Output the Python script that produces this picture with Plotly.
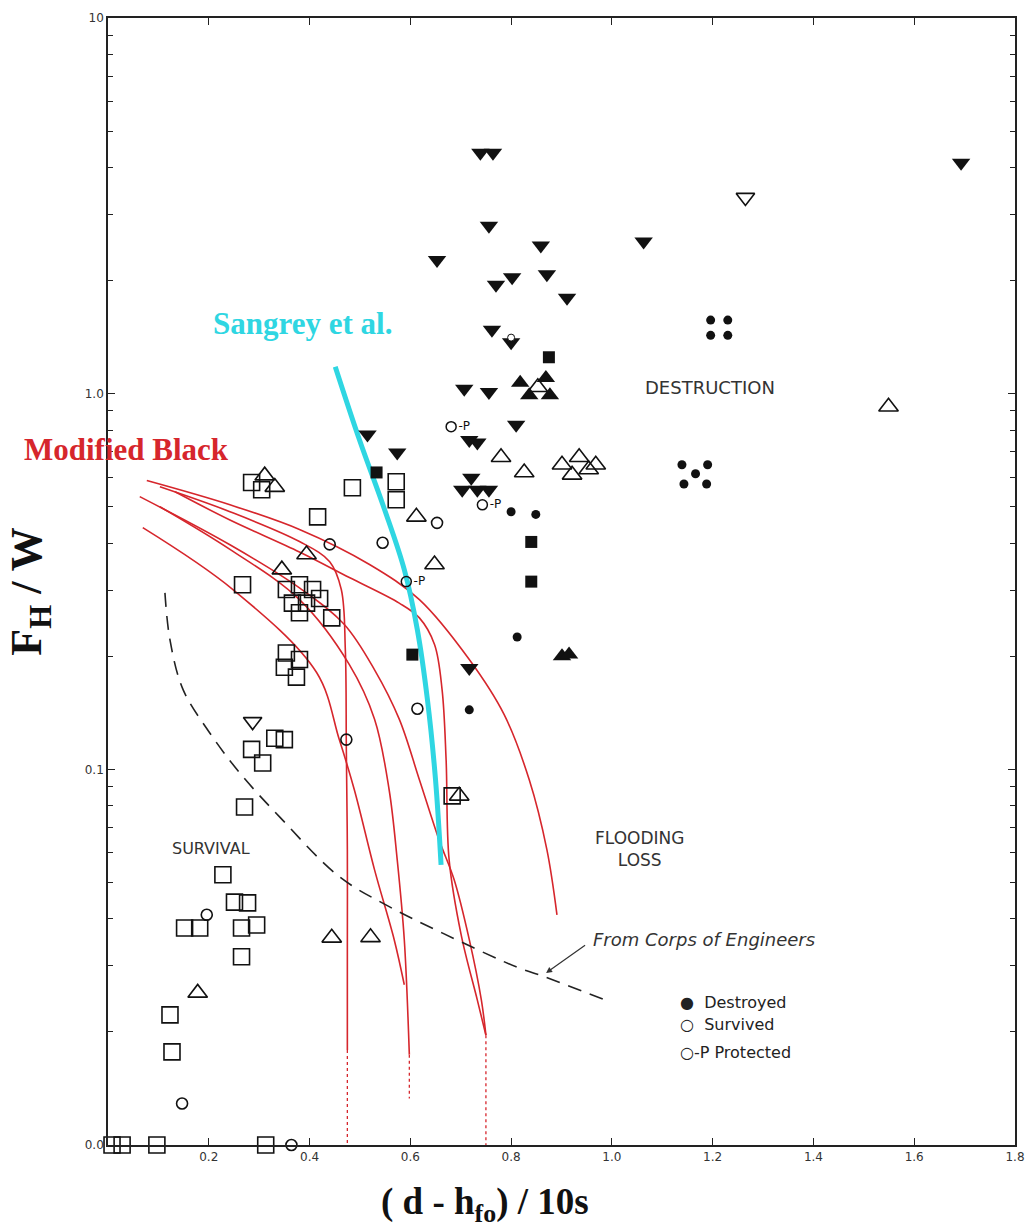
import plotly.graph_objects as go

# ---------------- data ----------------
# Destroyed: filled down-triangles
tri_dn_fill_x = [0.739, 0.764, 0.756, 0.653, 0.859, 1.063, 1.693, 0.770, 0.802, 0.871, 0.911,
                 0.762, 0.800, 0.810, 0.707, 0.756, 0.717, 0.733, 0.703, 0.733, 0.756, 0.721,
                 0.717, 0.515, 0.574]
tri_dn_fill_y = [4.38, 4.38, 2.80, 2.27, 2.48, 2.54, 4.12, 1.95, 2.04, 2.08, 1.80,
                 1.48, 1.37, 0.826, 1.03, 1.01, 0.753, 0.741, 0.555, 0.555, 0.555, 0.597,
                 0.186, 0.778, 0.697]
# white hole inside one triangle
hole_x = [0.800]
hole_y = [1.41]
# Destroyed: filled up-triangles
tri_up_fill_x = [0.818, 0.869, 0.836, 0.877, 0.901, 0.915]
tri_up_fill_y = [1.07, 1.10, 0.99, 0.99, 0.200, 0.202]
# Destroyed: filled squares
sq_fill_x = [0.875, 0.533, 0.840, 0.840, 0.604]
sq_fill_y = [1.25, 0.617, 0.403, 0.316, 0.202]
# Destroyed: filled circles
dot_fill_x = [0.800, 0.849, 0.812, 0.717, 1.139, 1.190, 1.166, 1.143, 1.188,
              1.196, 1.230, 1.196, 1.230]
dot_fill_y = [0.485, 0.477, 0.225, 0.144, 0.647, 0.647, 0.612, 0.575, 0.575,
              1.57, 1.57, 1.43, 1.43]
# Survived: open down-triangles
tri_dn_open_x = [1.265, 0.287]
tri_dn_open_y = [3.33, 0.134]
# Survived: open up-triangles
tri_up_open_x = [1.549, 0.311, 0.331, 0.612, 0.648, 0.394, 0.345, 0.780, 0.826, 0.901,
                 0.935, 0.968, 0.921, 0.954, 0.697, 0.444, 0.521, 0.178, 0.853]
tri_up_open_y = [0.923, 0.605, 0.564, 0.470, 0.351, 0.373, 0.340, 0.677, 0.617, 0.647,
                 0.677, 0.647, 0.608, 0.628, 0.085, 0.0356, 0.0357, 0.0254, 1.04]
# Survived: open squares
sq_open_x = [0.285, 0.305, 0.485, 0.416, 0.572, 0.572, 0.267, 0.354, 0.380, 0.406,
             0.366, 0.394, 0.420, 0.380, 0.444, 0.354, 0.350, 0.380, 0.374, 0.285,
             0.307, 0.331, 0.350, 0.271, 0.228, 0.251, 0.277, 0.152, 0.182, 0.265,
             0.295, 0.265, 0.123, 0.127, 0.683, 0.008, 0.028, 0.097, 0.313]
sq_open_y = [0.580, 0.555, 0.562, 0.470, 0.583, 0.522, 0.310, 0.301, 0.310, 0.301,
             0.277, 0.277, 0.285, 0.261, 0.253, 0.204, 0.187, 0.196, 0.176, 0.113,
             0.104, 0.121, 0.120, 0.0794, 0.0524, 0.0443, 0.0441, 0.0378, 0.0378, 0.0378,
             0.0385, 0.0317, 0.0222, 0.0177, 0.085, 0.01, 0.01, 0.01, 0.01]
# Survived: open circles
circ_open_x = [0.545, 0.440, 0.653, 0.614, 0.473, 0.196, 0.147, 0.364]
circ_open_y = [0.401, 0.397, 0.453, 0.145, 0.120, 0.0410, 0.0129, 0.01]
# Protected
prot_x = [0.681, 0.592, 0.743]
prot_y = [0.817, 0.316, 0.506]

# Sangrey et al. curve
sangrey_x = [0.451, 0.499, 0.549, 0.588, 0.614, 0.634, 0.650, 0.661]
sangrey_y = [1.18, 0.754, 0.491, 0.340, 0.235, 0.153, 0.0938, 0.0557]

# Modified Black curves
r1_x = [0.077, 0.242, 0.380, 0.519, 0.618, 0.717, 0.786, 0.836, 0.871, 0.891]
r1_y = [0.587, 0.506, 0.435, 0.351, 0.283, 0.196, 0.140, 0.0938, 0.0611, 0.0410]
r2_x = [0.103, 0.242, 0.380, 0.440, 0.463, 0.471, 0.473, 0.475, 0.475, 0.475]
r2_y = [0.565, 0.485, 0.404, 0.357, 0.301, 0.208, 0.113, 0.0611, 0.0330, 0.0179]
r3_x = [0.133, 0.242, 0.380, 0.479, 0.578, 0.618, 0.648, 0.663, 0.671, 0.677, 0.701, 0.733, 0.750]
r3_y = [0.548, 0.461, 0.379, 0.324, 0.277, 0.253, 0.215, 0.163, 0.106, 0.0574, 0.0362, 0.0243, 0.0196]
r4_x = [0.063, 0.242, 0.380, 0.469, 0.529, 0.578, 0.618, 0.657, 0.687, 0.717, 0.741, 0.750]
r4_y = [0.532, 0.396, 0.304, 0.243, 0.184, 0.136, 0.0938, 0.0649, 0.0508, 0.0352, 0.0243, 0.0196]
r5_x = [0.103, 0.242, 0.380, 0.479, 0.529, 0.558, 0.574, 0.588, 0.598]
r5_y = [0.500, 0.385, 0.283, 0.190, 0.136, 0.0881, 0.0574, 0.0352, 0.0174]
r6_x = [0.069, 0.248, 0.414, 0.459, 0.489, 0.529, 0.568, 0.588]
r6_y = [0.440, 0.301, 0.181, 0.120, 0.0881, 0.0540, 0.0352, 0.0267]
# dotted asymptote tails
tail_x = [[0.475, 0.475], [0.750, 0.750], [0.598, 0.598]]
tail_y = [[0.0179, 0.01], [0.0196, 0.01], [0.0174, 0.0133]]

# Corps of Engineers dashed curve
corps_x = [0.113, 0.123, 0.149, 0.202, 0.261, 0.341, 0.459, 0.558, 0.663, 0.810, 0.855, 0.988]
corps_y = [0.295, 0.221, 0.163, 0.125, 0.098, 0.0746, 0.0518, 0.0431, 0.0367, 0.0298, 0.0284, 0.0243]

x_ticks = [0.2, 0.4, 0.6, 0.8, 1.0, 1.2, 1.4, 1.6, 1.8]
x_ticktext = ["0.2", "0.4", "0.6", "0.8", "1.0", "1.2", "1.4", "1.6", "1.8"]
y_ticks = [0.01, 0.1, 1, 10]
y_ticktext = ["0.0", "0.1", "1.0", "10"]

# ---------------- figure ----------------
RED = "#d6262c"
CYAN = "#2fd6e2"
INK = "#111111"

fig = go.Figure()

red_curves = [(r1_x, r1_y), (r2_x, r2_y), (r3_x, r3_y), (r4_x, r4_y), (r5_x, r5_y), (r6_x, r6_y)]
for cx, cy in red_curves:
    fig.add_trace(go.Scatter(x=cx, y=cy, mode="lines", line=dict(color=RED, width=1.6, shape="spline"),
                             showlegend=False, hoverinfo="skip"))
for tx, ty in zip(tail_x, tail_y):
    fig.add_trace(go.Scatter(x=tx, y=ty, mode="lines", line=dict(color=RED, width=1.3, dash="dot"),
                             showlegend=False, hoverinfo="skip"))

fig.add_trace(go.Scatter(x=corps_x, y=corps_y, mode="lines",
                         line=dict(color="#222222", width=1.6, dash="14px,9px", shape="spline"),
                         showlegend=False))

fig.add_trace(go.Scatter(x=sangrey_x, y=sangrey_y, mode="lines",
                         line=dict(color=CYAN, width=5, shape="spline"), showlegend=False))

def mk(x, y, symbol, size, filled, lw=1.6):
    fig.add_trace(go.Scatter(
        x=x, y=y, mode="markers", cliponaxis=False, showlegend=False,
        marker=dict(symbol=symbol, size=size,
                    color=INK if filled else "rgba(255,255,255,0)",
                    line=dict(color=INK, width=0 if filled else lw))))

mk(sq_open_x, sq_open_y, "square", 16, False)
mk(tri_up_open_x, tri_up_open_y, "triangle-up", 17, False)
mk(tri_dn_open_x, tri_dn_open_y, "triangle-down", 16, False)
mk(circ_open_x, circ_open_y, "circle", 11, False)
mk(tri_dn_fill_x, tri_dn_fill_y, "triangle-down", 16, True)
mk(tri_up_fill_x, tri_up_fill_y, "triangle-up", 16, True)
mk(sq_fill_x, sq_fill_y, "square", 12, True)
mk(dot_fill_x, dot_fill_y, "circle", 9, True)

fig.add_trace(go.Scatter(x=hole_x, y=hole_y, mode="markers", showlegend=False,
                         marker=dict(symbol="circle", size=7, color="white",
                                     line=dict(color=INK, width=1))))

fig.add_trace(go.Scatter(x=prot_x, y=prot_y, mode="markers+text", showlegend=False, cliponaxis=False,
                         text=["-P"] * len(prot_x), textposition="middle right",
                         textfont=dict(size=12, color=INK, family="DejaVu Sans"),
                         marker=dict(symbol="circle", size=10, color="rgba(255,255,255,0)",
                                     line=dict(color=INK, width=1.5))))

axis_common = dict(showline=True, linecolor="#222222", linewidth=1.6, mirror="ticks",
                   ticks="inside", ticklen=7, tickwidth=1.3, tickcolor="#222222",
                   showgrid=False, zeroline=False, automargin=False,
                   tickfont=dict(family="DejaVu Sans", size=12, color="#333333"))

minor_vals = [m * d for d in (0.01, 0.1, 1) for m in range(2, 10)]

fig.update_layout(
    width=1026, height=1228,
    margin=dict(l=108, r=11, t=18, b=83),
    paper_bgcolor="white", plot_bgcolor="white",
    xaxis=dict(range=[0, 1.8], tickvals=x_ticks, ticktext=x_ticktext, **axis_common),
    yaxis=dict(type="log", range=[-2, 1], tickvals=y_ticks, ticktext=y_ticktext,
               minor=dict(tickvals=minor_vals, ticks="inside", ticklen=5, tickcolor="#222222"),
               **axis_common),
    showlegend=False,
)

ann = [
    dict(text="<b>Sangrey et al.</b>", x=0.2145, y=0.729,
         font=dict(family="Liberation Serif", size=31, color=CYAN)),
    dict(text="<b>Modified Black</b>", x=0.020, y=0.617,
         font=dict(family="Liberation Serif", size=31, color=RED)),
    dict(text="DESTRUCTION", x=0.664, y=0.672,
         font=dict(family="DejaVu Sans", size=18, color="#333333")),
    dict(text="FLOODING<br>LOSS", x=0.586, y=0.263,
         font=dict(family="DejaVu Sans", size=17, color="#333333")),
    dict(text="SURVIVAL", x=0.114, y=0.263,
         font=dict(family="DejaVu Sans", size=16, color="#333333")),
    dict(text="<i>From Corps of Engineers</i>", x=0.657, y=0.182,
         font=dict(family="DejaVu Sans", size=18, color="#333333")),
    dict(text="●  Destroyed", x=0.628, y=0.126, xanchor="left",
         font=dict(family="DejaVu Sans", size=16, color="#222222")),
    dict(text="○  Survived", x=0.628, y=0.1065, xanchor="left",
         font=dict(family="DejaVu Sans", size=16, color="#222222")),
    dict(text="○-P Protected", x=0.628, y=0.0825, xanchor="left",
         font=dict(family="DejaVu Sans", size=16, color="#222222")),
    dict(text="<b>( d - h<sub>fo</sub>) / 10s</b>", x=0.416, y=-0.053,
         font=dict(family="Liberation Serif", size=37, color="#111111")),
    dict(text="<b>F<sub>H</sub> / W</b>", x=-0.086, y=0.491, textangle=-90,
         font=dict(family="Liberation Serif", size=44, color="#111111")),
]
for a in ann:
    a.setdefault("xanchor", "center")
    fig.add_annotation(xref="paper", yref="paper", showarrow=False, yanchor="middle", **a)

fig.add_annotation(xref="paper", yref="paper", x=0.483, y=0.1526, text=" ", showarrow=True,
                   arrowhead=2, arrowsize=1, arrowwidth=1.2, arrowcolor="#333333", ax=42, ay=-30)

fig.write_html("out.html")
